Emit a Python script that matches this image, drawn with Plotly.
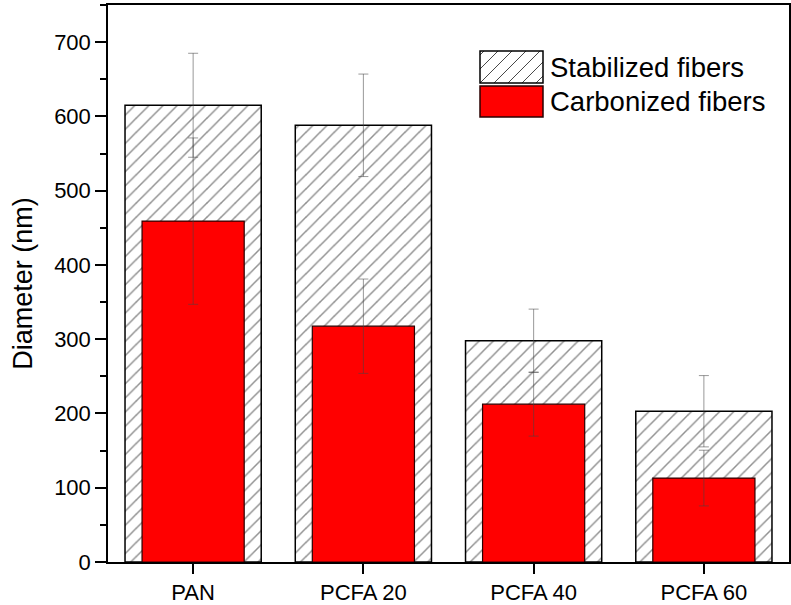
import plotly.graph_objects as go

categories = ["PAN", "PCFA 20", "PCFA 40", "PCFA 60"]
stabilized = [615, 588, 298, 203]
stabilized_err = [70, 69, 42.5, 48]
carbonized = [459, 317.5, 212.5, 113]
carbonized_err = [112, 63.5, 43, 37.5]
y_ticks = [0, 100, 200, 300, 400, 500, 600, 700]
legend_labels = ["Stabilized fibers", "Carbonized fibers"]

FONT = "Arial, Liberation Sans, sans-serif"
W, H = 791, 605
ML, MR, MT, MB = 108, 2, 5, 43
PW, PH = W - ML - MR, H - MT - MB

err_color = "rgba(70,70,70,0.55)"

fig = go.Figure()
fig.add_trace(go.Bar(
    x=categories, y=stabilized, name=legend_labels[0], width=0.8,
    marker=dict(color="white",
                line=dict(color="black", width=1.5),
                pattern=dict(shape="/", fgcolor="#222222", bgcolor="white",
                             size=10, solidity=0.15)),
    error_y=dict(type="data", array=stabilized_err, color=err_color,
                 thickness=1, width=5),
    showlegend=False,
))
fig.add_trace(go.Bar(
    x=categories, y=carbonized, name=legend_labels[1], width=0.6,
    marker=dict(color="#ff0000", line=dict(color="#2a0000", width=1.2)),
    error_y=dict(type="data", array=carbonized_err, color=err_color,
                 thickness=1, width=5),
    showlegend=False,
))


def px2paper(x, y):
    return (x - ML) / PW, (H - MB - y) / PH


shapes = []
annotations = []
# Manual legend (large swatches as in the reference)
boxes = [(480, 51, 543, 83), (480, 86, 543, 117)]
# hatched swatch
x0, y0, x1, y1 = boxes[0]
step = 14
path = ""
c = x0 + y0 + 4
while c < x1 + y1:
    xa = max(x0, c - y1)
    xb = min(x1, c - y0)
    if xb > xa:
        pa = px2paper(xa, c - xa)
        pb = px2paper(xb, c - xb)
        path += f"M{pa[0]:.5f},{pa[1]:.5f}L{pb[0]:.5f},{pb[1]:.5f}"
    c += step
shapes.append(dict(type="path", path=path, xref="paper", yref="paper",
                   line=dict(color="#333333", width=0.9)))
p0 = px2paper(x0, y1)
p1 = px2paper(x1, y0)
shapes.append(dict(type="rect", xref="paper", yref="paper",
                   x0=p0[0], y0=p0[1], x1=p1[0], y1=p1[1],
                   line=dict(color="black", width=1.5), fillcolor="rgba(0,0,0,0)"))
x0, y0, x1, y1 = boxes[1]
p0 = px2paper(x0, y1)
p1 = px2paper(x1, y0)
shapes.append(dict(type="rect", xref="paper", yref="paper",
                   x0=p0[0], y0=p0[1], x1=p1[0], y1=p1[1],
                   line=dict(color="#2a0000", width=1.5), fillcolor="#ff0000"))
for (bx0, by0, bx1, by1), lab in zip(boxes, legend_labels):
    tx, ty = px2paper(548, (by0 + by1) / 2)
    annotations.append(dict(text=lab, xref="paper", yref="paper", x=tx, y=ty,
                            xanchor="left", yanchor="middle", showarrow=False,
                            font=dict(family=FONT, size=27.5, color="black")))

fig.update_layout(
    width=W, height=H,
    margin=dict(l=ML, r=MR, t=MT, b=MB, autoexpand=False),
    barmode="overlay",
    plot_bgcolor="white", paper_bgcolor="white",
    font=dict(family=FONT, color="black"),
    shapes=shapes, annotations=annotations,
    xaxis=dict(
        range=[-0.5, 3.5], showline=True, linecolor="black", linewidth=1.5,
        mirror=True, ticks="outside", ticklen=10, tickwidth=1.5,
        tickcolor="black", tickfont=dict(size=22, family=FONT),
        showgrid=False, zeroline=False,
    ),
    yaxis=dict(
        range=[0, 750], tickvals=y_ticks, showline=True, linecolor="black",
        linewidth=1.5, mirror=True, ticks="outside", ticklen=11, tickwidth=1.5,
        tickcolor="black", tickfont=dict(size=22, family=FONT),
        showgrid=False, zeroline=False,
        minor=dict(dtick=50, tick0=0, ticks="outside", ticklen=6, tickwidth=1.5,
                   tickcolor="black", showgrid=False),
        title=dict(text="Diameter (nm)", font=dict(size=27, family=FONT),
                   standoff=14),
        automargin=False,
    ),
)

fig.write_html("out.html")
